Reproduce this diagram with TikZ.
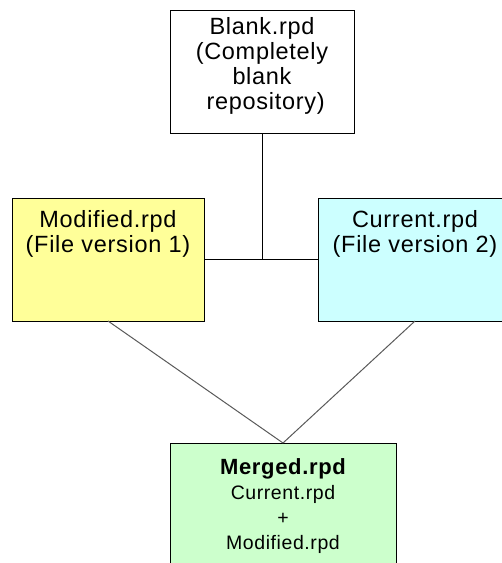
\documentclass[tikz,border=0pt]{standalone}
\usepackage{fontspec}
\setmainfont{Liberation Sans}[LetterSpace=3]
\usetikzlibrary{positioning}
\definecolor{fileyellow}{HTML}{FFFF99}
\definecolor{filecyan}{HTML}{CCFFFF}
\definecolor{filegreen}{HTML}{CCFFCC}

\begin{document}
\begin{tikzpicture}[x=1pt,y=-1pt,line width=1pt,
  filebox/.style={draw=black,inner sep=0pt,outer sep=0pt},
  filetext/.style={align=center,inner sep=0pt,font=\fontsize{23.5}{25}\selectfont},
  branch/.style={draw=black,line width=1pt},
  merge/.style={draw=black!65,line width=1pt}]
\useasboundingbox (0,0) rectangle (502,563);
\clip (0,0) rectangle (502,563);
% ---------- boxes ----------
\node[filebox,minimum width=184pt,minimum height=122.5pt] (blank) at (262,71.75) {};
\node[filebox,fill=fileyellow,minimum width=192pt,minimum height=123pt] (modified) at (108,259.5) {};
\node[filebox,fill=filecyan,minimum width=194pt,minimum height=123pt] (current) at (415,259.5) {};
\node[filebox,fill=filegreen,minimum width=226pt,minimum height=123pt] (merged) at (283,504.5) {};
% ---------- texts ----------
\node[filetext,below=6pt of blank.north] (blanktxt)
  {Blank.rpd\\(Completely\\blank\\\ repository)};
\node[filetext,below=12pt of modified.north] (modifiedtxt)
  {Modified.rpd\\(File version 1)};
\node[filetext,below=12pt of current.north] (currenttxt)
  {Current.rpd\\(File version 2)};
\node[filetext,below=15pt of merged.north] (mergedtxt)
  {{\bfseries\fontsize{22}{25}\selectfont Merged.rpd}\\
   {\fontsize{19.5}{25}\selectfont Current.rpd}\\
   {\fontsize{19.5}{25}\selectfont +}\\
   {\fontsize{19.5}{25}\selectfont Modified.rpd}};
% ---------- connectors ----------
\draw[branch] (modified.east) -- (current.west);
\draw[branch] (blank.south) -- (blank.south |- modified.east);
\draw[merge] (modified.south) -- (merged.north);
\draw[merge] (current.south) -- (merged.north);
\end{tikzpicture}
\end{document}
